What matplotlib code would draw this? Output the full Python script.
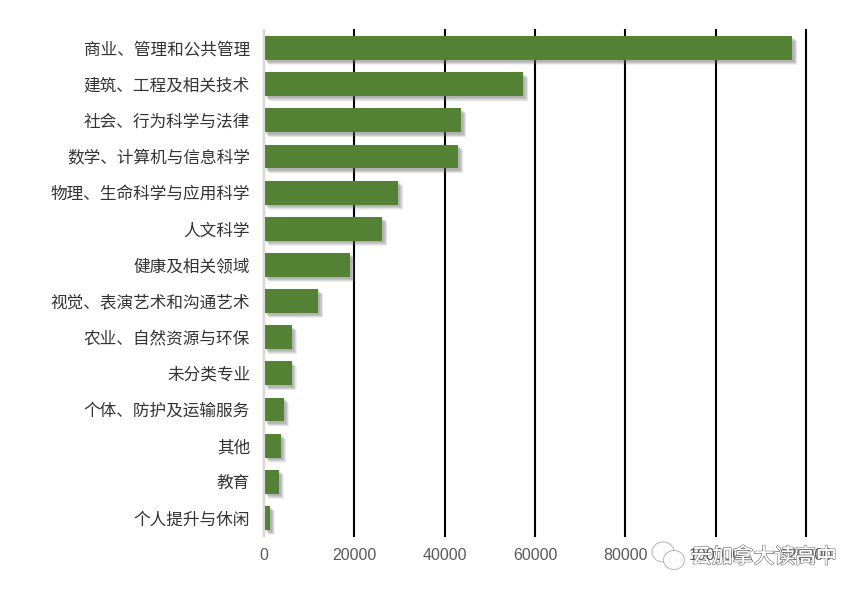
import matplotlib
matplotlib.use("Agg")
import matplotlib.pyplot as plt
import matplotlib.patheffects as pe
from matplotlib.patches import Ellipse

plt.rcParams['font.family'] = ['Noto Sans CJK SC', 'DejaVu Sans']

W, H = 866, 595

majors = ['商业、管理和公共管理', '建筑、工程及相关技术', '社会、行为科学与法律',
          '数学、计算机与信息科学', '物理、生命科学与应用科学', '人文科学',
          '健康及相关领域', '视觉、表演艺术和沟通艺术', '农业、自然资源与环保',
          '未分类专业', '个体、防护及运输服务', '其他', '教育', '个人提升与休闲']
students = [117000, 57400, 43700, 43000, 29700, 26200, 19100, 12000,
            6200, 6100, 4400, 3800, 3300, 1300]
x_ticks = [0, 20000, 40000, 60000, 80000, 100000, 120000]
watermark = '云加拿大读高中'

fig = plt.figure(figsize=(W / 100, H / 100), dpi=100)
ax = fig.add_axes([264 / W, 1 - 536 / H, (806 - 264) / W, (536 - 30) / H])

# soft shadow under the bars, layered to fake the blur
shadow = [pe.SimplePatchShadow(offset=(o, -o), shadow_rgbFace='#666666', alpha=0.09)
          for o in (3.6, 3.2, 2.8, 2.4, 2.0, 1.6, 1.2)]
bars = ax.barh(majors, students, height=0.66, color='#548235', zorder=3)
for b in bars:
    b.set_path_effects(shadow + [pe.Normal()])

ax.set_xlim(0, 120000)
ax.set_ylim(13.5, -0.5)
ax.set_xticks(x_ticks)
ax.set_xticklabels([str(t) for t in x_ticks], family='Liberation Sans', fontsize=11.5,
                   color='#595959')
ax.tick_params(axis='x', length=0, pad=9)
ax.tick_params(axis='y', length=0, pad=10, labelsize=12, labelcolor='#333333')

ax.grid(axis='x', color='black', linewidth=1.5, zorder=1, clip_on=False)
ax.set_axisbelow(True)
for s in ['top', 'right', 'bottom']:
    ax.spines[s].set_visible(False)
ax.spines['left'].set_color('#d9d9d9')
ax.spines['left'].set_linewidth(1.5)
ax.spines['left'].set_zorder(4)

# wechat watermark, sits over the last tick labels
fig.text(691 / W, 1 - 557 / H, watermark, fontsize=15, color='white', ha='left', va='center',
         path_effects=[pe.withStroke(linewidth=1.0, foreground='#666666'), pe.Normal()], zorder=10)
for cx, cy, rx, ry in [(663, 552, 11, 10), (674, 560, 10.5, 9.5)]:
    fig.add_artist(Ellipse((cx / W, 1 - cy / H), 2 * rx / W, 2 * ry / H, transform=fig.transFigure,
                           facecolor='white', edgecolor='#aaaaaa', linewidth=0.6, zorder=9))

fig.savefig('out.png', dpi=100)
